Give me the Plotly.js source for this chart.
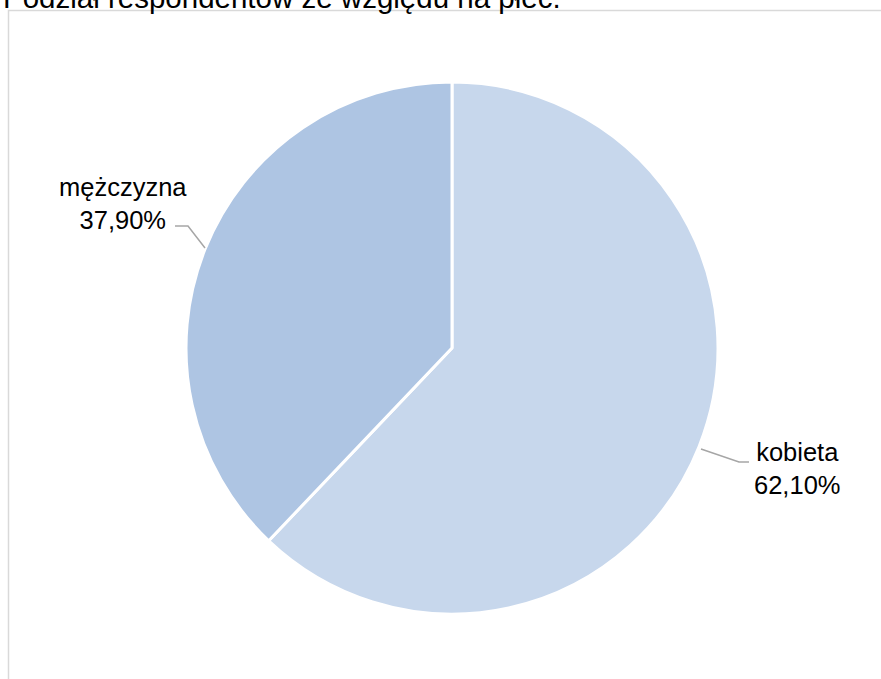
<!DOCTYPE html>
<html>
<head>
<meta charset="utf-8">
<script src="https://cdn.plot.ly/plotly-3.0.1.min.js"></script>
<style>html,body{margin:0;padding:0;background:#fff;}#chart{width:881px;height:679px;}</style>
</head>
<body>
<div id="chart"></div>
<script>
const categories = ["kobieta", "mężczyzna"];
const values = [62.1, 37.9];
const labelTexts = ["kobieta<br>62,10%", "mężczyzna<br>37,90%"];
const colors = ["#C7D7EC", "#AEC5E3"];
const titleText = "Podział respondentów ze względu na płeć.";

const W = 881, H = 679;
const px = x => x / W;
const py = y => 1 - y / H;

// pie geometry (pixels)
const cx = 452, cy = 348, R = 266;

const trace = {
  type: "pie",
  labels: categories,
  values: values,
  sort: false,
  direction: "clockwise",
  rotation: 0,
  marker: { colors: colors, line: { color: "#FFFFFF", width: 3 } },
  textinfo: "none",
  hoverinfo: "none",
  showlegend: false,
  domain: { x: [px(cx - R), px(cx + R)], y: [py(cy + R), py(cy - R)] }
};

const fontMain = { family: "Liberation Sans, Arial, sans-serif", size: 25.5, color: "#000000" };

const layout = {
  width: W, height: H,
  margin: { l: 0, r: 0, t: 0, b: 0, pad: 0 },
  paper_bgcolor: "#FFFFFF",
  showlegend: false,
  annotations: [
    { text: titleText, xref: "paper", yref: "paper", x: px(1), y: py(-3), xanchor: "left", yanchor: "middle",
      showarrow: false, font: { family: "Liberation Sans, Arial, sans-serif", size: 29.5, color: "#000000" } },
    { text: labelTexts[1], xref: "paper", yref: "paper", x: px(123), y: py(203), xanchor: "center", yanchor: "middle",
      showarrow: false, align: "center", font: fontMain },
    { text: labelTexts[0], xref: "paper", yref: "paper", x: px(797), y: py(468), xanchor: "center", yanchor: "middle",
      showarrow: false, align: "center", font: fontMain }
  ],
  shapes: [
    { type: "rect", xref: "paper", yref: "paper", x0: px(8.5), y0: py(H + 5), x1: px(W + 5), y1: py(10.5),
      line: { color: "#D9D9D9", width: 1.5 }, fillcolor: "rgba(0,0,0,0)", layer: "below" },
    { type: "path", xref: "paper", yref: "paper",
      path: `M ${px(175)} ${py(226)} L ${px(188)} ${py(226)} L ${px(205)} ${py(248)}`,
      line: { color: "#A6A6A6", width: 1.5 } },
    { type: "path", xref: "paper", yref: "paper",
      path: `M ${px(701)} ${py(449)} L ${px(739)} ${py(462)} L ${px(749)} ${py(462)}`,
      line: { color: "#A6A6A6", width: 1.5 } }
  ]
};

Plotly.newPlot("chart", [trace], layout, { displayModeBar: false, staticPlot: true });
</script>
</body>
</html>
